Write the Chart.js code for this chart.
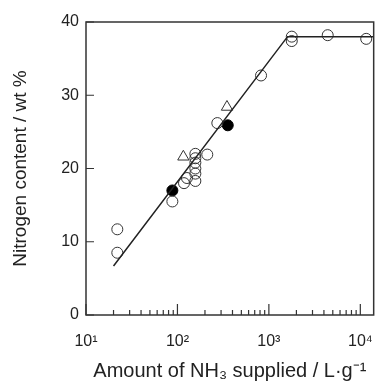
<!DOCTYPE html>
<html>
<head>
<meta charset="utf-8">
<script src="https://cdn.jsdelivr.net/npm/chart.js@4/dist/chart.umd.min.js"></script>
<style>
  body { margin: 0; background: #fff; }
</style>
</head>
<body>
<canvas id="myChart" width="390" height="383"></canvas>
<script>
// open circles
var openX = [22, 22, 88, 118, 127, 157, 157, 157, 157, 157, 157, 212, 273, 821, 1780, 1780, 4400, 11600];
var openY = [11.7, 8.5, 15.5, 18.0, 18.7, 22.0, 21.4, 20.8, 20.0, 19.3, 18.3, 21.9, 26.2, 32.7, 38.0, 37.4, 38.2, 37.7];
// open triangles
var triX = [116, 348];
var triY = [21.6, 28.4];
// filled circles
var fillX = [88, 355];
var fillY = [17.0, 25.9];
// fitted line
var lineX = [20, 1600, 14000];
var lineY = [6.7, 38.0, 38.0];

var xMajor = [10, 100, 1000, 10000];
var xLabels = ["10\u00b9", "10\u00b2", "10\u00b3", "10\u2074"];
var yTicks = [0, 10, 20, 30, 40];

function pts(xs, ys) {
  return xs.map(function (x, i) { return { x: x, y: ys[i] }; });
}

var ink = "#222";
var family = "'Liberation Sans', Arial, sans-serif";
var tickFont = { family: family, size: 16 };

// box + inward ticks
const frame = {
  id: "frame",
  afterDraw(chart) {
    const ctx = chart.ctx, a = chart.chartArea;
    const xs = chart.scales.x, ys = chart.scales.y;
    ctx.save();
    ctx.strokeStyle = "#333";
    ctx.lineWidth = 1.5;
    ctx.strokeRect(a.left, a.top, a.right - a.left, a.bottom - a.top);
    ctx.lineWidth = 1.2;
    ctx.beginPath();
    yTicks.forEach(function (v) {
      const py = ys.getPixelForValue(v);
      ctx.moveTo(a.left, py);
      ctx.lineTo(a.left + 8, py);
    });
    for (let d = 10; d <= 10000; d *= 10) {
      for (let m = 1; m <= 9; m++) {
        const v = d * m;
        if (v > xs.max) break;
        const px = xs.getPixelForValue(v);
        const len = m === 1 ? 11 : 5;
        ctx.moveTo(px, a.bottom);
        ctx.lineTo(px, a.bottom - len);
      }
    }
    ctx.stroke();
    ctx.restore();
  }
};

const myChart = new Chart("myChart", {
  type: "scatter",
  data: {
    datasets: [{
      type: "line",
      data: pts(lineX, lineY),
      borderColor: ink,
      borderWidth: 1.5,
      pointRadius: 0,
      fill: false,
      tension: 0
    }, {
      data: pts(openX, openY),
      pointStyle: "circle",
      pointRadius: 5.5,
      backgroundColor: "rgba(0,0,0,0)",
      borderColor: "#333",
      borderWidth: 1
    }, {
      data: pts(triX, triY),
      pointStyle: "triangle",
      pointRadius: 6.5,
      backgroundColor: "rgba(255,255,255,0.6)",
      borderColor: "#333",
      borderWidth: 1
    }, {
      data: pts(fillX, fillY),
      pointStyle: "circle",
      pointRadius: 5.5,
      backgroundColor: "#000",
      borderColor: "#000",
      borderWidth: 1
    }]
  },
  options: {
    responsive: false,
    animation: false,
    layout: { padding: { top: 22, right: 2, left: 0, bottom: 0 } },
    plugins: { legend: { display: false }, tooltip: { enabled: false } },
    scales: {
      x: {
        type: "logarithmic",
        min: 10,
        max: 14000,
        grid: { display: false, drawTicks: false },
        border: { display: false },
        afterBuildTicks: function (scale) {
          scale.ticks = xMajor.map(function (v) { return { value: v }; });
        },
        afterFit: function (scale) { scale.height = 68; },
        ticks: {
          color: ink,
          font: tickFont,
          padding: 17,
          maxRotation: 0,
          autoSkip: false,
          callback: function (v) { return xLabels[xMajor.indexOf(v)]; }
        },
        title: {
          display: true,
          text: "Amount of NH\u2083 supplied / L\u00b7g\u207b\u00b9",
          color: ink,
          font: { family: family, size: 20 },
          padding: { top: 0, bottom: 0 }
        }
      },
      y: {
        min: 0,
        max: 40,
        grid: { display: false, drawTicks: false },
        border: { display: false },
        afterFit: function (scale) { scale.width = 86; },
        ticks: { stepSize: 10, color: ink, font: tickFont, padding: 7 },
        title: {
          display: true,
          text: "Nitrogen content / wt %",
          color: ink,
          font: { family: family, size: 19 },
          padding: { top: 9, bottom: 0 }
        }
      }
    }
  },
  plugins: [frame]
});
</script>
</body>
</html>
